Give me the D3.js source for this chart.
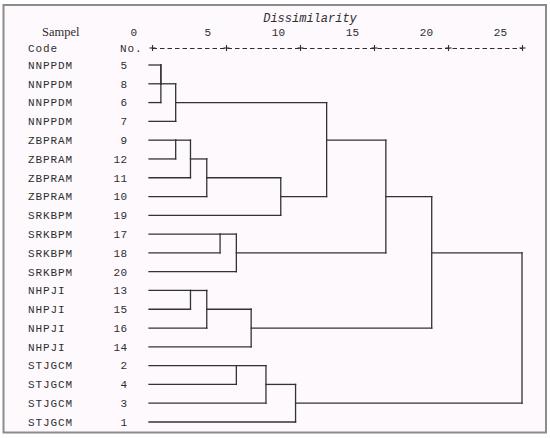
<!DOCTYPE html>
<html><head><meta charset="utf-8">
<script src="https://cdn.jsdelivr.net/npm/d3@7"></script>
<style>body{margin:0;background:#fff}svg{display:block}</style>
</head><body><svg id="c" width="550" height="438"></svg>
<script>
// ---- data ----
const sampleCodes = ["NNPPDM","NNPPDM","NNPPDM","NNPPDM","ZBPRAM","ZBPRAM","ZBPRAM","ZBPRAM","SRKBPM","SRKBPM","SRKBPM","SRKBPM","NHPJI","NHPJI","NHPJI","NHPJI","STJGCM","STJGCM","STJGCM","STJGCM"];
const sampleNumbers = [5,8,6,7,9,12,11,10,19,17,18,20,13,15,16,14,2,4,3,1];
// agglomeration schedule: [cluster joined into, cluster joined, rescaled distance]
const merges = [
  [5,8,0.6],[5,6,0.6],[5,7,1.6],[9,12,1.6],[9,11,2.6],[13,15,2.6],
  [9,10,3.7],[13,16,3.7],[17,18,4.6],[17,20,5.7],[2,4,5.7],[13,14,6.7],
  [2,3,7.7],[9,19,8.7],[2,1,9.7],[5,9,11.8],[5,17,15.8],[5,13,18.9],[5,2,25]
];
const tickValues = [0,5,10,15,20,25];
const axisTitle = "Dissimilarity";

// ---- drawing ----
const svg = d3.select("#c");
const mono = "'Liberation Mono','DejaVu Sans Mono',monospace";
const ink = "#2e2e2e";

svg.append("rect").attr("x",3.5).attr("y",5).attr("width",542.5).attr("height",427.5)
  .attr("fill","#fdf9fd").attr("stroke","#8c8c8c").attr("stroke-width",2);

const x = d3.scaleLinear().domain([0,25]).range([152,522]);
const y = d3.scaleLinear().domain([0,sampleNumbers.length-1]).range([65,422]);

// title
svg.append("text").attr("x",310).attr("y",22).attr("text-anchor","middle")
  .attr("font-family",mono).attr("font-style","italic").attr("font-size",12)
  .attr("fill",ink).text(axisTitle);

// header texts
svg.append("text").attr("x",42).attr("y",36).attr("font-family","'Liberation Serif','DejaVu Serif',serif")
  .attr("font-size",12.5).attr("fill",ink).text("Sampel");
svg.append("text").attr("x",28).attr("y",52).attr("font-family",mono)
  .attr("font-size",11).attr("letter-spacing",0.9).attr("fill",ink).text("Code");
svg.append("text").attr("x",120).attr("y",52).attr("font-family",mono)
  .attr("font-size",11).attr("letter-spacing",0.9).attr("fill",ink).text("No.");

// axis
const axisG = svg.append("g").attr("transform","translate(0,48)")
  .call(d3.axisTop(x).tickValues(tickValues).tickSize(3).tickSizeOuter(0).tickPadding(9).tickFormat(d3.format("d")));
axisG.select(".domain").attr("stroke",ink).attr("stroke-width",1).attr("stroke-dasharray","4.5,3");
axisG.selectAll(".tick line").attr("y1",-3).attr("y2",3).attr("stroke",ink).attr("stroke-width",1.1);
axisG.selectAll(".tick").append("line").attr("x1",-3).attr("x2",3).attr("stroke",ink).attr("stroke-width",1.1);
axisG.selectAll(".tick text").attr("text-anchor","end").attr("x",-15.5)
  .attr("font-family",mono).attr("font-size",11).attr("fill",ink);

// leaf labels
const rows = svg.append("g");
rows.selectAll("text.code").data(sampleCodes).join("text").attr("class","code")
  .attr("x",28).attr("y",(d,i)=>y(i)).attr("dy","0.35em")
  .attr("font-family",mono).attr("font-size",11).attr("letter-spacing",0.9).attr("fill",ink).text(d=>d);
rows.selectAll("text.num").data(sampleNumbers).join("text").attr("class","num")
  .attr("x",127.5).attr("y",(d,i)=>y(i)).attr("dy","0.35em").attr("text-anchor","end")
  .attr("font-family",mono).attr("font-size",11).attr("letter-spacing",0.4).attr("fill",ink).text(d=>d);

// dendrogram links
const leafStart = x(0) - 3;
const state = new Map();
sampleNumbers.forEach((n,i)=>state.set(n,{row:i, x:leafStart}));
const segs = [];
merges.forEach(([a,b,h])=>{
  const A = state.get(a), B = state.get(b), xm = x(h);
  segs.push([A.x, y(A.row), xm, y(A.row)]);
  segs.push([B.x, y(B.row), xm, y(B.row)]);
  segs.push([xm, y(A.row), xm, y(B.row)]);
  state.set(a,{row:Math.floor((A.row+B.row)/2), x:xm});
  state.delete(b);
});
svg.append("g").selectAll("line").data(segs.filter(s=>s[0]!==s[2]||s[1]!==s[3])).join("line")
  .attr("x1",d=>d[0]).attr("y1",d=>d[1]).attr("x2",d=>d[2]).attr("y2",d=>d[3])
  .attr("stroke","#333").attr("stroke-width",1.3).attr("stroke-linecap","square");
</script></body></html>
